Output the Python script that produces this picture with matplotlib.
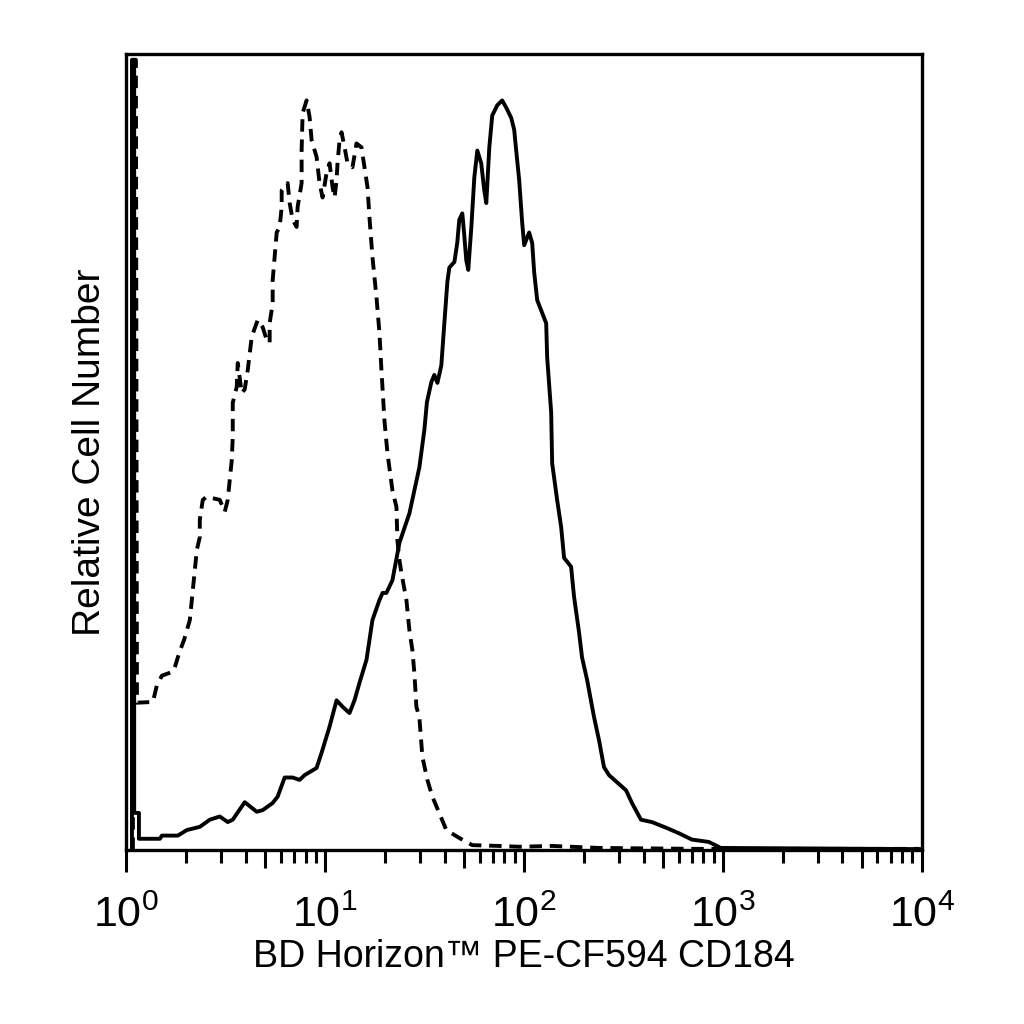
import matplotlib
matplotlib.use("Agg")
import matplotlib.pyplot as plt
from matplotlib.ticker import LogLocator, LogFormatterMathtext, NullFormatter, FixedLocator
import numpy as np

plt.rcParams['font.family'] = ['Liberation Sans', 'DejaVu Sans']

# stained sample (solid histogram), x = fluorescence, y = % of max
stained_x = [1.072, 1.072, 1.10, 1.10, 1.162, 1.162, 1.481, 1.516, 1.824, 2.024, 2.351,
             2.640, 2.963, 3.249, 3.443, 3.955, 4.543, 4.869, 5.466, 5.790, 6.279, 6.886,
             7.466, 7.910, 9.085, 9.625, 10.56, 11.45, 12.27, 13.30, 14.09, 14.93, 16.19,
             17.35, 18.81, 19.5, 20.39, 21.86, 23.71, 26.61, 29.87, 31.64, 32.6, 34.31,
             35.5, 36.8, 38.5, 39.9, 41.3, 42.25, 44.8, 46.3, 47.4, 49.1, 50.2, 51.4, 52.6,
             54.5, 56.4, 58.4, 61.1, 63.3, 64.8, 67.1, 69.4, 73.6, 77.9, 81.6, 86.5, 89.5,
             91.6, 94.8, 98.2, 100.5, 106.4, 110.2, 112.8, 116.8, 123.7, 129.6, 131.1,
             137.3, 138.9, 147.1, 154.1, 159.5, 172.9, 179.0, 189.7, 196.3, 208.0, 225.5,
             238.9, 253.1, 268.3, 326.5, 349.9, 388.2, 440.9, 518.0, 602.0, 700.0, 852.0,
             978.0, 9750.0]
stained_y = [0, 99.3, 99.3, 4.65, 4.65, 1.4, 1.4, 1.8, 1.8, 2.5, 2.9,
             3.8, 4.2, 3.5, 3.8, 6.0, 4.8, 5.0, 5.9, 6.7, 9.1, 9.1,
             8.8, 9.4, 10.3, 12.2, 15.5, 18.8, 18.0, 17.2, 18.8, 21.0, 23.9,
             28.9, 31.4, 32.3, 32.3, 33.9, 38.6, 42.3, 48.1, 52.8, 56.3, 58.8,
             59.7, 58.7, 60.9, 66.3, 71.4, 73.2, 73.9, 76.3, 79.2, 80.0, 77.3, 74.1, 72.9,
             78.3, 84.5, 87.9, 86.3, 82.9, 81.3, 88.3, 92.3, 93.6, 94.2, 93.3, 92.0, 90.5,
             87.9, 84.2, 78.8, 76.0, 77.6, 76.3, 72.6, 69.1, 67.5, 66.2, 61.9,
             55.0, 48.6, 44.0, 40.6, 36.7, 35.6, 31.8, 27.3, 24.2, 21.4, 16.7,
             13.8, 10.4, 9.4, 7.5, 5.9, 3.8, 3.5, 2.8, 2.1, 1.3, 1.0,
             0.25, 0.1]

# isotype control (dashed histogram)
control_x = [1.084, 1.084, 1.122, 1.136, 1.366, 1.431, 1.516, 1.721, 1.762, 1.866, 1.96,
             2.095, 2.169, 2.220, 2.271, 2.351, 2.351, 2.434, 2.549, 2.733, 2.963, 3.139,
             3.249, 3.325, 3.404, 3.443, 3.443, 3.606, 3.648, 3.82, 3.955, 4.095, 4.191,
             4.289, 4.596, 4.869, 5.099, 5.278, 5.278, 5.466, 5.466, 5.725, 5.927, 6.066,
             6.066, 6.500, 6.652, 6.886, 7.211, 7.295, 7.641, 7.641, 7.730, 8.096, 8.381,
             8.578, 9.085, 9.406, 9.739, 10.20, 10.56, 10.93, 11.19, 11.45, 11.58, 11.85,
             12.13, 12.56, 13.00, 13.77, 14.42, 15.28, 15.82, 16.38, 16.76, 17.35, 18.17,
             18.81, 19.25, 19.93, 20.63, 21.86, 22.90, 23.16, 23.71, 24.26, 25.70, 26.61,
             27.54, 28.19, 28.85, 29.87, 30.92, 32.76, 34.71, 37.63, 40.80, 47.43, 55.10,
             75.28, 94.83, 138.9, 238.9, 758.0, 9750.0]
control_y = [0, 99.3, 99.3, 18.5, 18.6, 20.7, 21.9, 22.4, 23.0, 25.0, 26.4,
             28.9, 32.7, 35.2, 37.7, 39.3, 41.5, 44.0, 44.4, 44.2, 44.0, 42.5,
             44.0, 46.5, 49.0, 51.9, 56.2, 58.2, 61.2, 57.4, 57.9, 60.3, 62.4,
             64.5, 66.6, 65.7, 64.1, 63.7, 66.2, 68.7, 71.6, 77.6, 78.3, 80.8,
             82.9, 83.8, 81.3, 79.2, 78.3, 80.8, 83.8, 87.9, 92.6, 94.2, 92.1,
             89.2, 87.1, 83.8, 82.0, 85.1, 86.3, 83.3, 82.0, 84.2, 86.3, 89.2,
             90.2, 88.3, 86.3, 85.8, 88.8, 88.3, 85.8, 83.3, 79.5, 74.5, 69.5,
             65.0, 60.3, 54.0, 49.9, 45.2, 43.1, 38.9, 36.4, 34.8, 31.4, 27.6,
             25.1, 22.2, 18.0, 16.6, 11.7, 8.8, 6.7, 4.6, 2.5, 1.5, 0.6,
             0.5, 0.4, 0.5, 0.25, 0.13, 0.13]

fig = plt.figure(figsize=(10.24, 10.24), dpi=100)
ax = fig.add_axes([0.123, 0.170, 0.777, 0.777])

ax.plot(control_x, control_y, color='black', lw=2.8, ls=(0, (3.2, 2.0)))
ax.plot(stained_x, stained_y, color='black', lw=2.8)

ax.set_xscale('log')
ax.set_xlim(1, 1e4)
ax.set_ylim(0, 100)

for s in ax.spines.values():
    s.set_linewidth(2.4)

ax.xaxis.set_major_locator(LogLocator(base=10, numticks=10))
ax.xaxis.set_major_formatter(LogFormatterMathtext())
ax.xaxis.set_minor_locator(FixedLocator([m * 10 ** d for d in range(4) for m in (2, 3, 4, 6, 7, 8, 9)]))
ax.xaxis.set_minor_formatter(NullFormatter())
ax.tick_params(axis='x', which='major', direction='out', length=16, width=2.2,
               labelsize=31, pad=17)
ax.tick_params(axis='x', which='minor', direction='out', length=9, width=2.2)
ax.set_yticks([])

# medium ticks at 5 x 10^n
sec = ax.secondary_xaxis('bottom')
sec.set_xticks([5 * 10 ** d for d in range(4)])
sec.set_xticklabels([])
sec.tick_params(direction='out', length=13, width=2.2)
sec.spines['bottom'].set_visible(False)

ax.set_xlabel('BD Horizon\u2122 PE-CF594 CD184', fontsize=27, labelpad=2)
ax.set_ylabel('Relative Cell Number', fontsize=28, labelpad=13)

fig.savefig('out.png', dpi=100, facecolor='white')
